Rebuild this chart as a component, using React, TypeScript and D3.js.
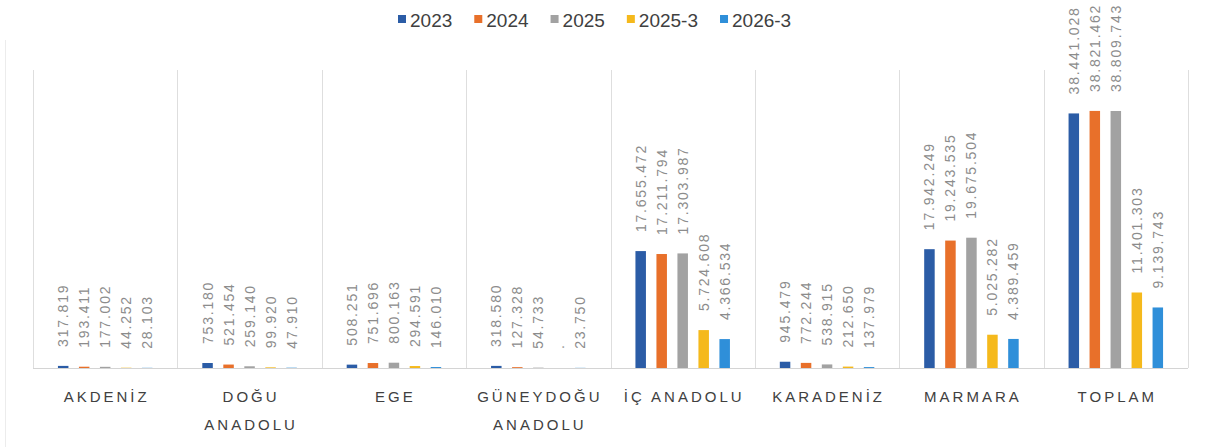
import { useEffect, useRef } from "react";
import * as d3 from "d3";

// regions (x axis), two-line labels where the original wraps
const CATEGORIES = ["AKDENİZ", "DOĞU ANADOLU", "EGE", "GÜNEYDOĞU ANADOLU", "İÇ ANADOLU", "KARADENİZ", "MARMARA", "TOPLAM"];
const CATEGORY_LINES = [["AKDENİZ"], ["DOĞU", "ANADOLU"], ["EGE"], ["GÜNEYDOĞU", "ANADOLU"], ["İÇ ANADOLU"], ["KARADENİZ"], ["MARMARA"], ["TOPLAM"]];

const SERIES_NAMES = ["2023", "2024", "2025", "2025-3", "2026-3"];
const V2023 = [317819, 753180, 508251, 318580, 17655472, 945479, 17942249, 38441028];
const V2024 = [193411, 521454, 751696, 127328, 17211794, 772244, 19243535, 38821462];
const V2025 = [177002, 259140, 800163, 54733, 17303987, 538915, 19675504, 38809743];
const V2025_3 = [44252, 99920, 294591, null, 5724608, 212650, 5025282, 11401303];
const V2026_3 = [28103, 47910, 146010, 23750, 4366534, 137979, 4389459, 9139743];
const SERIES_VALUES = [V2023, V2024, V2025, V2025_3, V2026_3];
const COLORS = ["#2b5ca6", "#e8702a", "#a2a2a2", "#f5b91c", "#2f8fd9"];

const Y_MAX = 45000000;

const fmt = d3
  .formatLocale({ decimal: ",", thousands: ".", grouping: [3], currency: ["", ""] })
  .format(",d");

export default function App() {
  const svgRef = useRef<SVGSVGElement | null>(null);

  useEffect(() => {
    const width = 1214;
    const height = 447;
    const svg = d3.select(svgRef.current);
    svg.selectAll("*").remove();
    svg.attr("width", width).attr("height", height);

    const plot = { left: 33, right: 1188, top: 70, bottom: 368 };

    const x0 = d3.scaleBand<string>().domain(CATEGORIES).range([plot.left, plot.right]);
    const half = 52.5;
    const x1 = d3
      .scaleBand<string>()
      .domain(SERIES_NAMES)
      .range([x0.bandwidth() / 2 - half, x0.bandwidth() / 2 + half])
      .paddingInner(0.5)
      .paddingOuter(0.25);
    const y = d3.scaleLinear().domain([0, Y_MAX]).range([plot.bottom, plot.top]);

    // faint page edge
    svg.append("line")
      .attr("x1", 5.5).attr("x2", 5.5).attr("y1", 40).attr("y2", 447)
      .attr("stroke", "#ececec");

    // category separators
    const bounds = CATEGORIES.map((c) => x0(c) as number).concat([plot.right]);
    svg.append("g")
      .selectAll("line")
      .data(bounds)
      .join("line")
      .attr("x1", (d) => Math.round(d) + 0.5)
      .attr("x2", (d) => Math.round(d) + 0.5)
      .attr("y1", plot.top)
      .attr("y2", plot.bottom)
      .attr("stroke", "#dedede");

    // baseline
    svg.append("line")
      .attr("x1", plot.left).attr("x2", plot.right)
      .attr("y1", plot.bottom + 0.5).attr("y2", plot.bottom + 0.5)
      .attr("stroke", "#d4d4d4");

    const groups = svg.append("g")
      .selectAll("g")
      .data(CATEGORIES)
      .join("g")
      .attr("transform", (c) => `translate(${x0(c)},0)`);

    SERIES_NAMES.forEach((name, si) => {
      const vals = SERIES_VALUES[si];
      groups.append("rect")
        .attr("x", (_, ci) => x1(name) as number)
        .attr("width", x1.bandwidth())
        .attr("y", (_, ci) => y(vals[ci] ?? 0))
        .attr("height", (_, ci) => plot.bottom - y(vals[ci] ?? 0))
        .attr("fill", COLORS[si]);

      groups.append("text")
        .attr("transform", (_, ci) => {
          const cx = (x1(name) as number) + x1.bandwidth() / 2;
          return `translate(${cx},${y(vals[ci] ?? 0) - 19}) rotate(-90)`;
        })
        .attr("dy", "0.36em")
        .attr("text-anchor", "start")
        .attr("font-family", "'Liberation Sans', Arial, sans-serif")
        .attr("font-size", 14)
        .attr("letter-spacing", 1.8)
        .attr("fill", "#8c8c8c")
        .text((_, ci) => (vals[ci] == null ? "." : fmt(vals[ci] as number)));
    });

    // category labels
    const labels = svg.append("g")
      .selectAll("text")
      .data(CATEGORIES)
      .join("text")
      .attr("x", (c) => (x0(c) as number) + x0.bandwidth() / 2 + 1.5)
      .attr("y", 402)
      .attr("text-anchor", "middle")
      .attr("font-family", "'Liberation Sans', Arial, sans-serif")
      .attr("font-size", 15)
      .attr("letter-spacing", 3)
      .attr("fill", "#404040");
    labels.each(function (c, i) {
      const t = d3.select(this);
      CATEGORY_LINES[i].forEach((line, li) => {
        t.append("tspan")
          .attr("x", (x0(c) as number) + x0.bandwidth() / 2 + 1.5)
          .attr("dy", li === 0 ? 0 : 28)
          .text(line);
      });
    });

    // legend
    const legend = svg.append("g");
    let lx = 398;
    SERIES_NAMES.forEach((name, si) => {
      legend.append("rect")
        .attr("x", lx).attr("y", 15)
        .attr("width", 8).attr("height", 8)
        .attr("fill", COLORS[si]);
      const t = legend.append("text")
        .attr("x", lx + 12)
        .attr("y", 27)
        .attr("font-family", "'Liberation Sans', Arial, sans-serif")
        .attr("font-size", 19)
        .attr("fill", "#404040")
        .text(name);
      const w = (t.node() as SVGTextElement).getComputedTextLength();
      lx += 12 + w + 22;
    });
  }, []);

  return (
    <div style={{ position: "absolute", left: 0, top: 0, background: "#fff" }}>
      <svg ref={svgRef} style={{ display: "block" }} />
    </div>
  );
}
